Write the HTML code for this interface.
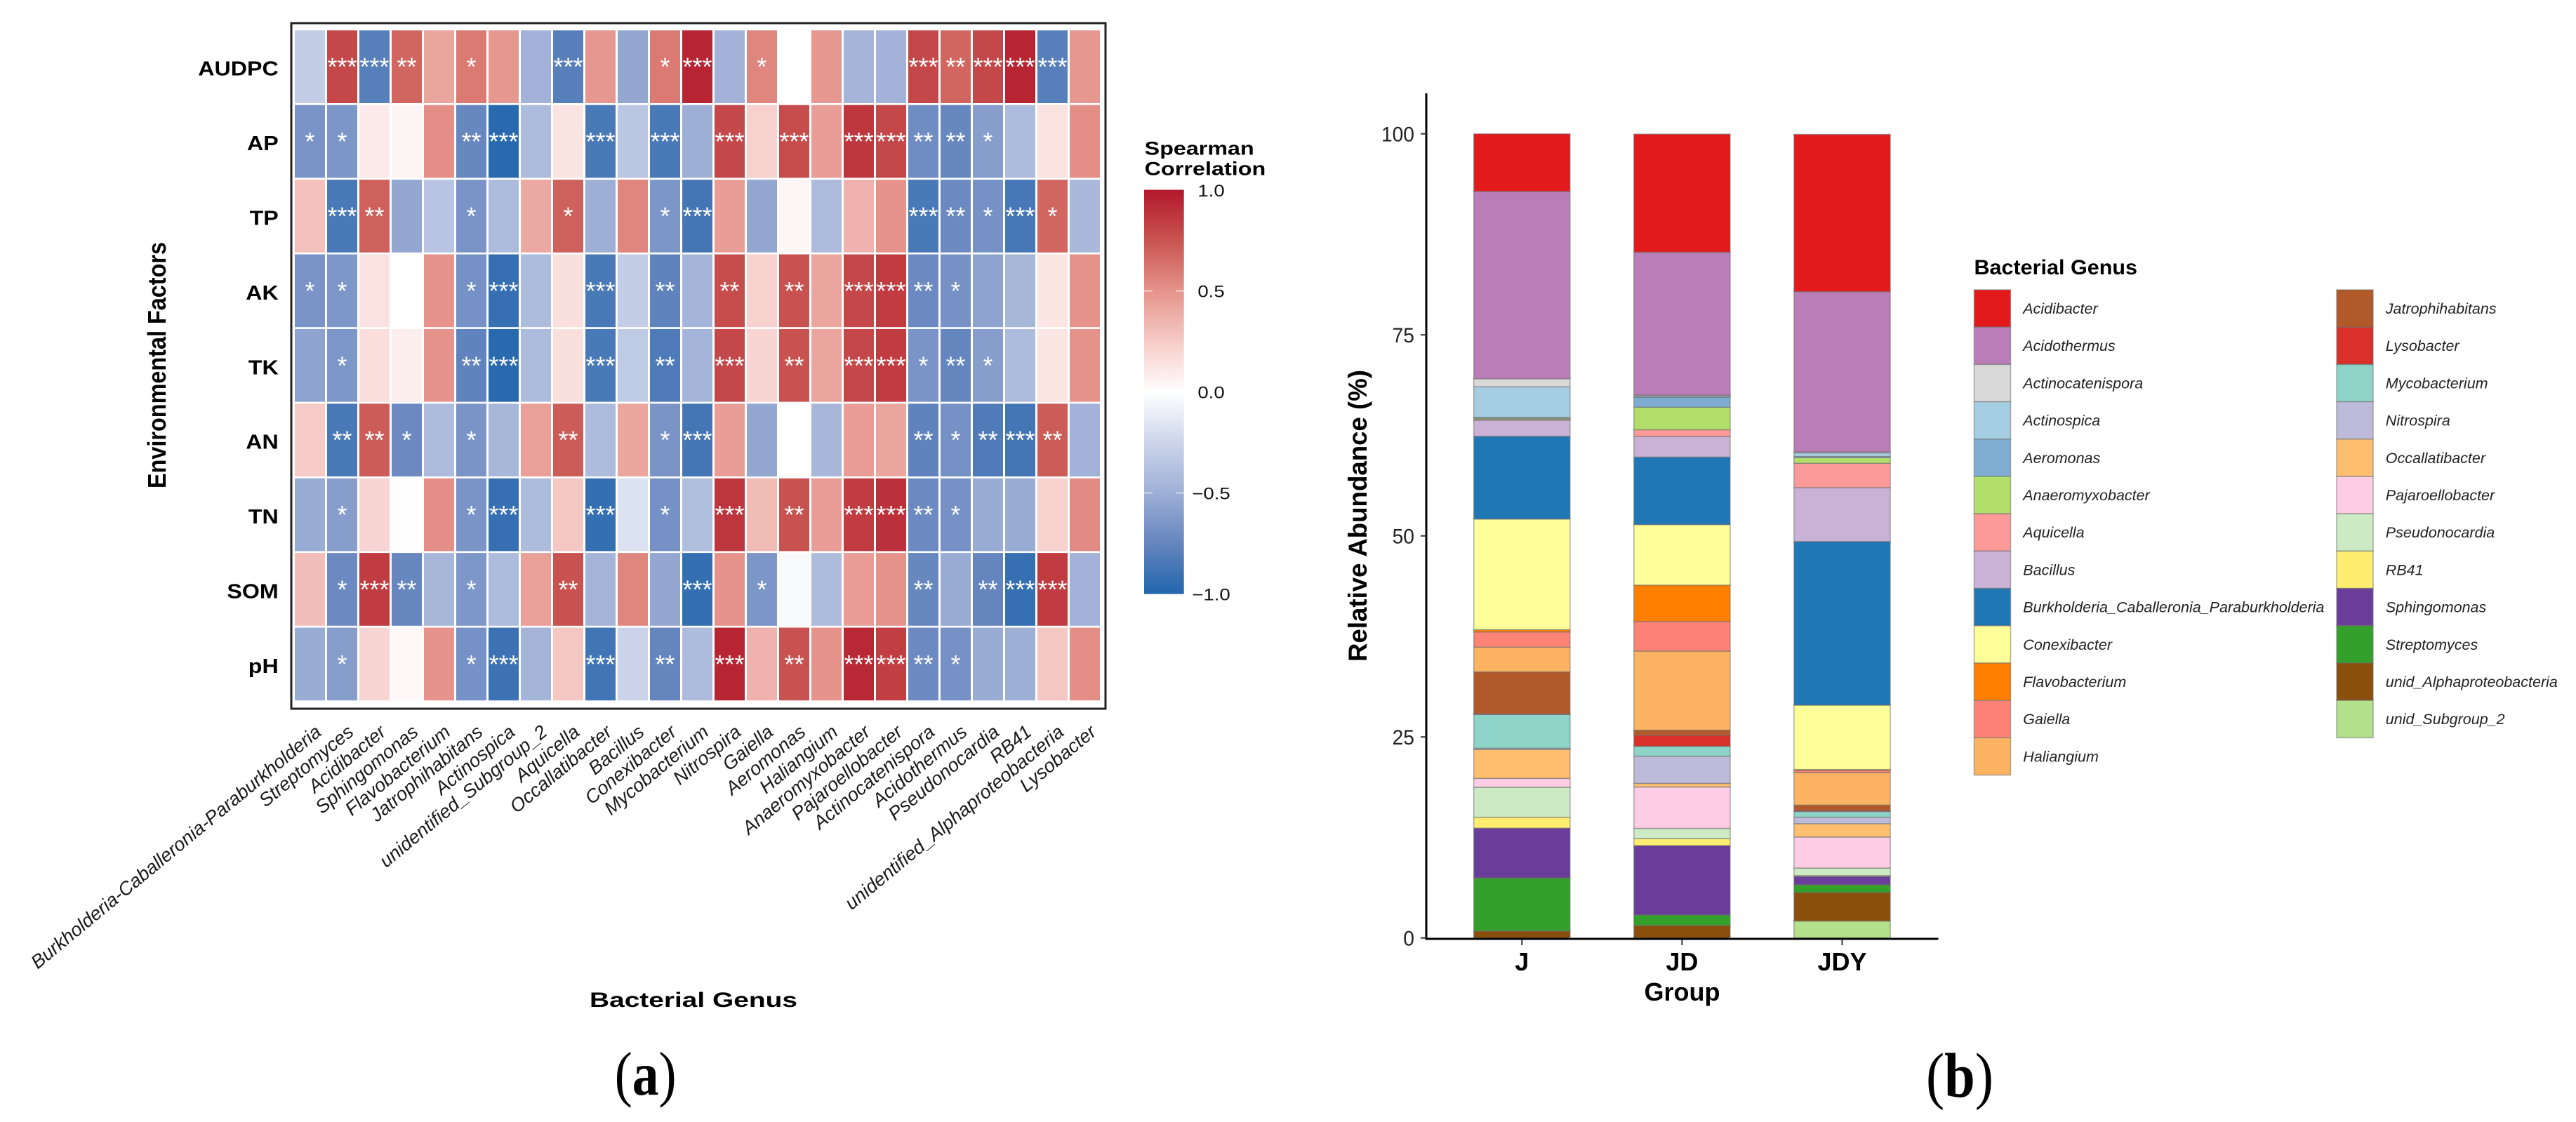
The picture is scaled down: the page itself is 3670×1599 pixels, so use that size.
<!DOCTYPE html>
<html lang="en">
<head>
<meta charset="utf-8">
<title>Spearman correlation heatmap and relative abundance stacked bars</title>
<style>
html,body{margin:0;padding:0;background:#fff;}
svg{display:block;font-family:"Liberation Sans",Arial,sans-serif;}
</style>
</head>
<body>
<svg id="fig" xmlns="http://www.w3.org/2000/svg" width="3670" height="1599" viewBox="0 0 3670 1599">
  <defs>
    <linearGradient id="cbGrad" x1="0" y1="0" x2="0" y2="1">
      <stop offset="0" stop-color="#b2182b"/>
      <stop offset="0.125" stop-color="#c95450"/>
      <stop offset="0.25" stop-color="#e5938b"/>
      <stop offset="0.375" stop-color="#f6cbc7"/>
      <stop offset="0.5" stop-color="#ffffff"/>
      <stop offset="0.625" stop-color="#ccd5ea"/>
      <stop offset="0.75" stop-color="#9eafd6"/>
      <stop offset="0.875" stop-color="#6585be"/>
      <stop offset="1" stop-color="#2166ac"/>
    </linearGradient>
  </defs>
  <rect x="0" y="0" width="3670" height="1599" fill="#ffffff"/>

  <g id="heatmap"></g>
  <rect x="415" y="33" width="1160" height="977" fill="none" stroke="#222" stroke-width="3"/>
  <text transform="translate(236,520.5) rotate(-90)" text-anchor="middle" font-size="36.5" font-weight="bold" textLength="351" lengthAdjust="spacingAndGlyphs" fill="#000">Environmental Factors</text>
  <text x="988" y="1435" text-anchor="middle" font-size="30" font-weight="bold" textLength="296" lengthAdjust="spacingAndGlyphs" fill="#000">Bacterial Genus</text>

  <g>
    <text x="1630.7" y="220.7" font-size="27" font-weight="bold" textLength="156" lengthAdjust="spacingAndGlyphs">Spearman</text>
    <text x="1630.7" y="249.3" font-size="27" font-weight="bold" textLength="172.6" lengthAdjust="spacingAndGlyphs">Correlation</text>
    <rect x="1630" y="270.5" width="56.7" height="576" fill="url(#cbGrad)"/>
    <g id="cbTicks"></g>
  </g>

  <text x="875.6" y="1560" font-family="'Liberation Serif',serif" font-size="88" textLength="88" lengthAdjust="spacingAndGlyphs" fill="#000">(<tspan font-weight="bold">a</tspan>)</text>
  <text x="2744" y="1563" font-family="'Liberation Serif',serif" font-size="90" textLength="96" lengthAdjust="spacingAndGlyphs" fill="#000">(<tspan font-weight="bold">b</tspan>)</text>

  <g id="bars"></g>
  <line x1="2032" y1="133" x2="2032" y2="1339.5" stroke="#000" stroke-width="3"/>
  <line x1="2030.5" y1="1338" x2="2761.5" y2="1338" stroke="#000" stroke-width="3"/>
  <g id="barAxes"></g>
  <text transform="translate(1947,735) rotate(-90)" text-anchor="middle" font-size="37" font-weight="bold" textLength="416" lengthAdjust="spacingAndGlyphs" fill="#000">Relative Abundance (%)</text>
  <text x="2396.5" y="1426" text-anchor="middle" font-size="36" font-weight="bold" fill="#000">Group</text>

  <text x="2812.5" y="391" font-size="30" font-weight="bold" textLength="232.5" lengthAdjust="spacingAndGlyphs" fill="#000">Bacterial Genus</text>
  <g id="barLegend"></g>
</svg>

<script>
/* ---------- Heatmap data ---------- */
const heatGenera = ["Burkholderia-Caballeronia-Paraburkholderia","Streptomyces","Acidibacter","Sphingomonas","Flavobacterium","Jatrophihabitans","Actinospica","unidentified_Subgroup_2","Aquicella","Occallatibacter","Bacillus","Conexibacter","Mycobacterium","Nitrospira","Gaiella","Aeromonas","Haliangium","Anaeromyxobacter","Pajaroellobacter","Actinocatenispora","Acidothermus","Pseudonocardia","RB41","unidentified_Alphaproteobacteria","Lysobacter"];
const factors = ["AUDPC","AP","TP","AK","TK","AN","TN","SOM","pH"];

const corrAUDPC = [-.3,.8,-.8,.68,.42,.6,.48,-.48,-.8,.48,-.55,.6,.95,-.48,.55,0,.48,-.46,-.48,.8,.68,.8,.95,-.8,.48];
const corrAP    = [-.66,-.65,.1,.05,.52,-.74,-.97,-.42,.13,-.85,-.35,-.85,-.5,.8,.22,.78,.45,.87,.8,-.7,-.74,-.6,-.42,.14,.52];
const corrTP    = [.3,-.85,.7,-.55,-.36,-.66,-.42,.4,.7,-.5,.55,-.65,-.87,.45,-.55,.04,-.42,.36,.5,-.85,-.72,-.68,-.86,.68,-.44];
const corrAK    = [-.66,-.64,.14,0,.5,-.68,-.92,-.42,.15,-.85,-.3,-.77,-.46,.78,.22,.76,.42,.8,.85,-.72,-.68,-.57,-.45,.12,.5];
const corrTK    = [-.57,-.64,.16,.08,.5,-.77,-.97,-.42,.15,-.85,-.32,-.83,-.46,.8,.2,.76,.42,.8,.85,-.66,-.75,-.6,-.42,.12,.5];
const corrAN    = [.25,-.85,.72,-.72,-.42,-.66,-.45,.44,.72,-.42,.42,-.66,-.87,.45,-.55,0,-.45,.46,.42,-.77,-.68,-.83,-.87,.72,-.48];
const corrTN    = [-.52,-.6,.2,.01,.52,-.66,-.92,-.42,.27,-.93,-.18,-.68,-.4,.88,.32,.76,.45,.85,.9,-.72,-.68,-.52,-.52,.22,.53];
const corrSOM   = [.31,-.72,.85,-.74,-.45,-.64,-.42,.44,.76,-.46,.55,-.55,-.93,.5,-.65,-.03,-.42,.46,.5,-.74,-.52,-.75,-.92,.85,-.48];
const corrPH    = [-.52,-.6,.2,.03,.5,-.68,-.9,-.46,.27,-.88,-.26,-.75,-.42,.95,.36,.76,.5,.93,.84,-.72,-.68,-.52,-.5,.27,.52];
const corrRows  = [corrAUDPC,corrAP,corrTP,corrAK,corrTK,corrAN,corrTN,corrSOM,corrPH];

const sigAUDPC = [0,3,3,2,0,1,0,0,3,0,0,1,3,0,1,0,0,0,0,3,2,3,3,3,0];
const sigAP    = [1,1,0,0,0,2,3,0,0,3,0,3,0,3,0,3,0,3,3,2,2,1,0,0,0];
const sigTP    = [0,3,2,0,0,1,0,0,1,0,0,1,3,0,0,0,0,0,0,3,2,1,3,1,0];
const sigAK    = [1,1,0,0,0,1,3,0,0,3,0,2,0,2,0,2,0,3,3,2,1,0,0,0,0];
const sigTK    = [0,1,0,0,0,2,3,0,0,3,0,2,0,3,0,2,0,3,3,1,2,1,0,0,0];
const sigAN    = [0,2,2,1,0,1,0,0,2,0,0,1,3,0,0,0,0,0,0,2,1,2,3,2,0];
const sigTN    = [0,1,0,0,0,1,3,0,0,3,0,1,0,3,0,2,0,3,3,2,1,0,0,0,0];
const sigSOM   = [0,1,3,2,0,1,0,0,2,0,0,0,3,0,1,0,0,0,0,2,0,2,3,3,0];
const sigPH    = [0,1,0,0,0,1,3,0,0,3,0,2,0,3,0,2,0,3,3,2,1,0,0,0,0];
const sigRows  = [sigAUDPC,sigAP,sigTP,sigAK,sigTK,sigAN,sigTN,sigSOM,sigPH];

const colorbarTicks = [1,0.5,0,-0.5,-1];

/* ---------- Stacked bar data (percent, in legend order, top to bottom) ---------- */
const groups = ["J","JD","JDY"];
const barGenera = ["Acidibacter","Acidothermus","Actinocatenispora","Actinospica","Aeromonas","Anaeromyxobacter","Aquicella","Bacillus","Burkholderia_Caballeronia_Paraburkholderia","Conexibacter","Flavobacterium","Gaiella","Haliangium","Jatrophihabitans","Lysobacter","Mycobacterium","Nitrospira","Occallatibacter","Pajaroellobacter","Pseudonocardia","RB41","Sphingomonas","Streptomyces","unid_Alphaproteobacteria","unid_Subgroup_2"];
const seriesJ   = [7.15,23.3,1.0,3.8,.1,.15,.1,2.0,10.3,13.75,.28,1.9,3.07,5.2,.1,4.2,.15,3.6,1.1,3.73,1.35,6.2,6.6,.86,0];
const seriesJD  = [14.68,17.78,.1,.15,1.25,2.8,.83,2.57,8.4,7.52,4.52,3.69,9.83,.62,1.38,1.24,3.38,.45,5.14,1.28,.86,8.63,1.31,1.55,0];
const seriesJDY = [19.56,19.94,.1,.45,.15,.7,3.03,6.7,20.35,8.0,.1,.28,4.04,.66,.14,.72,.8,1.66,3.86,.93,.1,1.04,.97,3.55,2.1];
const seriesByGroup = [seriesJ,seriesJD,seriesJDY];
const yTicks = [0,25,50,75,100];

/* ---------- Palette and scales ---------- */
const genusPalette = ["#e31a1c","#ba7db8","#d9d9d9","#a6cee3","#7fadd1","#b2df6a","#fb9a99","#cab2d6","#1f78b4","#ffff99","#ff7f00","#fe8276","#fdb462","#b15928","#d9302a","#8dd3c7","#bebada","#fdbf6f","#fccde5","#ccebc5","#ffed6f","#6a3d9a","#33a02c","#8a4f0c","#b3e08b"];
const rampColors = ["#2166ac","#6585be","#9eafd6","#ccd5ea","#ffffff","#f6cbc7","#e5938b","#c95450","#b2182b"];

function hexToRgb(h){return [parseInt(h.slice(1,3),16),parseInt(h.slice(3,5),16),parseInt(h.slice(5,7),16)];}
function corrColor(v){
  const t = (Math.max(-1,Math.min(1,v))+1)*4;
  const i = Math.min(7,Math.floor(t));
  const a = hexToRgb(rampColors[i]), b = hexToRgb(rampColors[i+1]), f = t-i;
  return "rgb("+a.map(function(c,k){return Math.round(c+(b[k]-c)*f);}).join(",")+")";
}
const heatX = function(i){return 420+i*46;};
const heatY = function(j){return 43.3+j*106.4;};
const cbY = function(v){return 558.6-v*287.8;};
const barX = function(i){return 2099.7+i*228.1;};
const barY = function(v){return 1336.7-v*11.46;};

const NS = "http://www.w3.org/2000/svg";
function mk(tag,parent,attrs,text){
  const el = document.createElementNS(NS,tag);
  for(const k in attrs){el.setAttribute(k,attrs[k]);}
  if(text!==undefined){el.textContent=text;}
  parent.appendChild(el);
  return el;
}

/* ---------- Draw heatmap ---------- */
const heatG = document.getElementById("heatmap");
corrRows.forEach(function(row,j){
  row.forEach(function(v,i){
    const cell = mk("rect",heatG,{x:heatX(i),y:heatY(j),width:43,height:103.7,fill:corrColor(v)});
    
    
    const n = sigRows[j][i];
    if(n>0){
      const star = mk("text",heatG,{x:heatX(i)+21.5,y:heatY(j)+51.85+12.5,"text-anchor":"middle","font-size":36,fill:"#ffffff"},"*".repeat(n));
      
      
    }
  });
});
factors.forEach(function(f,j){
  const lab = mk("text",heatG,{transform:"translate(396.7,"+(heatY(j)+51.85+12.5)+") scale(1.11,1)","text-anchor":"end","font-size":29,"font-weight":"bold",fill:"#000"},f);
  
  
});
heatGenera.forEach(function(g,i){
  const lab = mk("text",heatG,{transform:"translate("+(heatX(i)+21.5+18)+",1046) rotate(-39.6)","text-anchor":"end","font-size":27,"font-style":"italic",fill:"#1a1a1a"},g);
  
  
});

/* ---------- Draw colorbar ticks ---------- */
const cbG = document.getElementById("cbTicks");
colorbarTicks.forEach(function(v){
  const y = cbY(v);
  if(Math.abs(v)<1 && v!==0){
    const t1 = mk("line",cbG,{x1:1630,x2:1642,y1:y,y2:y,stroke:"#ffffff","stroke-opacity":.7,"stroke-width":1.5});
    
    
    const t2 = mk("line",cbG,{x1:1675,x2:1686.7,y1:y,y2:y,stroke:"#ffffff","stroke-opacity":.7,"stroke-width":1.5});
    
    
  }
  const s = (v<0?"\u2212":"")+Math.abs(v).toFixed(1);
  const lab = mk("text",cbG,{transform:"translate(1725.5,"+(y+9)+") scale(1.15,1)","text-anchor":"middle","font-size":24,fill:"#111"},s);
  
  
});

/* ---------- Draw stacked bars ---------- */
const barsG = document.getElementById("bars");
seriesByGroup.forEach(function(series,g){
  let cum = 0;
  for(let k=series.length-1;k>=0;k--){
    const v = series[k];
    if(v<=0){continue;}
    const seg = mk("rect",barsG,{x:barX(g),y:barY(cum+v),width:137.2,height:barY(cum)-barY(cum+v),fill:genusPalette[k],stroke:"#6e6e6e","stroke-opacity":.55,"stroke-width":1.5});
    
    
    cum += v;
  }
});

/* ---------- Draw bar axes ---------- */
const axG = document.getElementById("barAxes");
yTicks.forEach(function(v){
  const y = barY(v);
  const tick = mk("line",axG,{x1:2024,x2:2032,y1:y,y2:y,stroke:"#333","stroke-width":2});
  
  
  const lab = mk("text",axG,{transform:"translate(2015,"+(y+11)+") scale(.94,1)","text-anchor":"end","font-size":30,fill:"#222"},String(v));
  
  
});
groups.forEach(function(name,g){
  const cx = barX(g)+68.6;
  const tick = mk("line",axG,{x1:cx,x2:cx,y1:1339,y2:1347,stroke:"#333","stroke-width":2});
  
  
  const lab = mk("text",axG,{x:cx,y:1383,"text-anchor":"middle","font-size":36,"font-weight":"bold",fill:"#000"},name);
  
  
});

/* ---------- Draw legend ---------- */
const legG = document.getElementById("barLegend");
barGenera.forEach(function(name,k){
  const col = k<13?0:1;
  const row = k<13?k:k-13;
  const kx = col===0?2812.5:3329;
  const ky = 413+row*53.2;
  const key = mk("rect",legG,{x:kx,y:ky,width:52,height:53.2,fill:genusPalette[k],stroke:"#6e6e6e","stroke-opacity":.55,"stroke-width":1.5});
  
  
  const lab = mk("text",legG,{x:kx+69.8,y:ky+34,"font-size":21.5,"font-style":"italic",fill:"#222"},name);
  
  
});
</script>
</body>
</html>
